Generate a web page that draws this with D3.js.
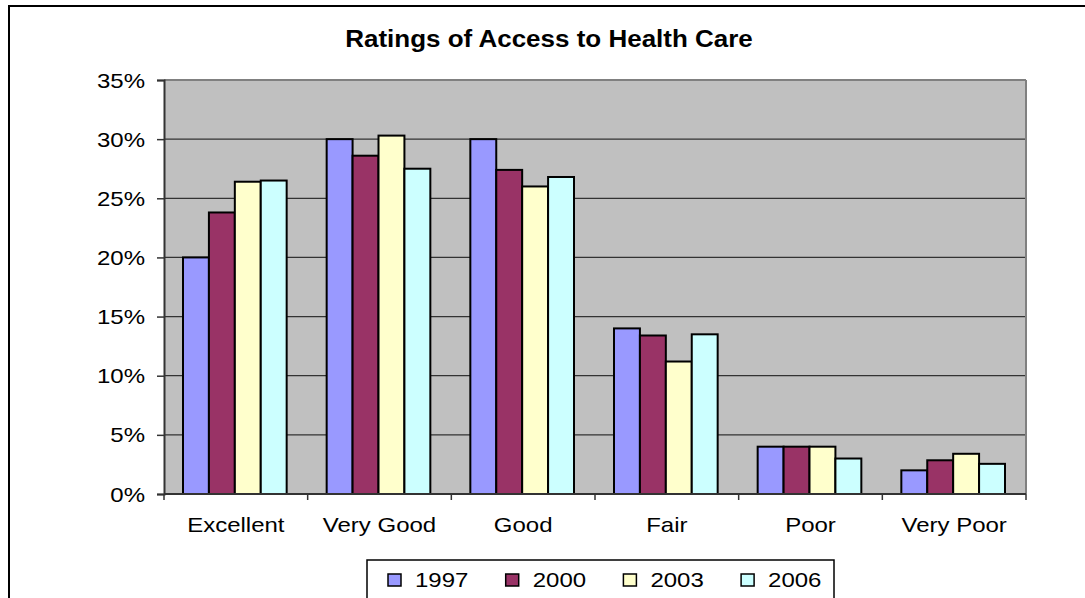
<!DOCTYPE html>
<html><head><meta charset="utf-8">
<script src="https://cdn.jsdelivr.net/npm/d3@7"></script>
<style>body{margin:0;background:#fff}svg{display:block}text{font-family:"Liberation Sans",Arial,sans-serif;fill:#000}</style>
</head><body><svg id="c" width="1085" height="598"></svg>
<script>
const categories = ["Excellent","Very Good","Good","Fair","Poor","Very Poor"];
const years = ["1997","2000","2003","2006"];
const v1997 = [20.0, 30.0, 30.0, 14.0, 4.0, 2.0];
const v2000 = [23.8, 28.6, 27.4, 13.4, 4.0, 2.85];
const v2003 = [26.4, 30.3, 26.0, 11.2, 4.0, 3.4];
const v2006 = [26.5, 27.5, 26.8, 13.5, 3.0, 2.55];
const yTicks = [0,5,10,15,20,25,30,35];
const colors = ["#9999FF","#993366","#FFFFCC","#CCFFFF"];
const series = [v1997, v2000, v2003, v2006];

const svg = d3.select("#c");
const L=164, R=1026, T=80, B=494, SX=1.2;

// outer frame
svg.append("rect").attr("x",9).attr("y",6).attr("width",1100).attr("height",620)
  .attr("fill","#fff").attr("stroke","#000").attr("stroke-width",2);

const x0 = d3.scaleBand().domain(categories).range([L,R]);
const bw = x0.bandwidth();
const x1 = d3.scaleBand().domain(years).range([19, bw-21]);
const y = d3.scaleLinear().domain([0,35]).range([B,T]);

// plot background
svg.append("rect").attr("x",L).attr("y",T).attr("width",R-L).attr("height",B-T).attr("fill","#C0C0C0");
// gridlines
svg.append("g").selectAll("line").data(yTicks.filter(d=>d>0&&d<35)).join("line")
  .attr("x1",L).attr("x2",R).attr("y1",d=>y(d)).attr("y2",d=>y(d))
  .attr("stroke","#333").attr("stroke-width",1.2);
// plot border top/right
svg.append("line").attr("x1",L).attr("x2",R).attr("y1",T).attr("y2",T).attr("stroke","#808080").attr("stroke-width",2);
svg.append("line").attr("x1",R).attr("x2",R).attr("y1",T).attr("y2",B).attr("stroke","#808080").attr("stroke-width",2);

// bars
const g = svg.append("g");
categories.forEach((c,i)=>{
  years.forEach((yr,j)=>{
    const val = series[j][i];
    g.append("rect").attr("x",x0(c)+x1(yr)).attr("y",y(val))
      .attr("width",x1.bandwidth()).attr("height",y(0)-y(val))
      .attr("fill",colors[j]).attr("stroke","#000").attr("stroke-width",2);
  });
});

// y axis
const ya = svg.append("g").attr("transform",`translate(${L},0)`)
  .call(d3.axisLeft(y).tickValues(yTicks).tickSize(7).tickPadding(12).tickFormat(d=>d+"%"));
ya.select(".domain").attr("stroke","#333").attr("stroke-width",2);
ya.selectAll(".tick line").attr("stroke","#333").attr("stroke-width",1.5);
ya.selectAll("text").attr("font-size",20).attr("font-family","Liberation Sans, Arial, sans-serif")
  .attr("x",-19/SX).attr("transform",`scale(${SX},1)`).attr("dy","0.35em");

// x axis line and boundary ticks
svg.append("line").attr("x1",L).attr("x2",R).attr("y1",B).attr("y2",B).attr("stroke","#333").attr("stroke-width",2);
const bounds = categories.map(c=>x0(c)).concat([R]);
svg.append("g").selectAll("line").data(bounds).join("line")
  .attr("x1",d=>d).attr("x2",d=>d).attr("y1",B).attr("y2",B+6).attr("stroke","#333").attr("stroke-width",1.5);
svg.append("g").selectAll("text").data(categories).join("text")
  .attr("transform",d=>`translate(${x0(d)+bw/2},532) scale(${SX},1)`)
  .attr("text-anchor","middle").attr("font-size",20).text(d=>d);

// title
svg.append("text").attr("transform",`translate(549,47) scale(1.13,1)`).attr("text-anchor","middle")
  .attr("font-size",23).attr("font-weight","bold").text("Ratings of Access to Health Care");

// legend
svg.append("rect").attr("x",367).attr("y",560).attr("width",467).attr("height",60)
  .attr("fill","#fff").attr("stroke","#000").attr("stroke-width",1.5);
const lg = svg.append("g").selectAll("g").data(years).join("g")
  .attr("transform",(d,i)=>`translate(${388+i*117.7},574)`);
lg.append("rect").attr("width",13).attr("height",12).attr("fill",(d,i)=>colors[i]).attr("stroke","#000").attr("stroke-width",1.5);
lg.append("text").attr("transform",`translate(27,13) scale(${SX},1)`).attr("font-size",20).text(d=>d);
</script></body></html>
